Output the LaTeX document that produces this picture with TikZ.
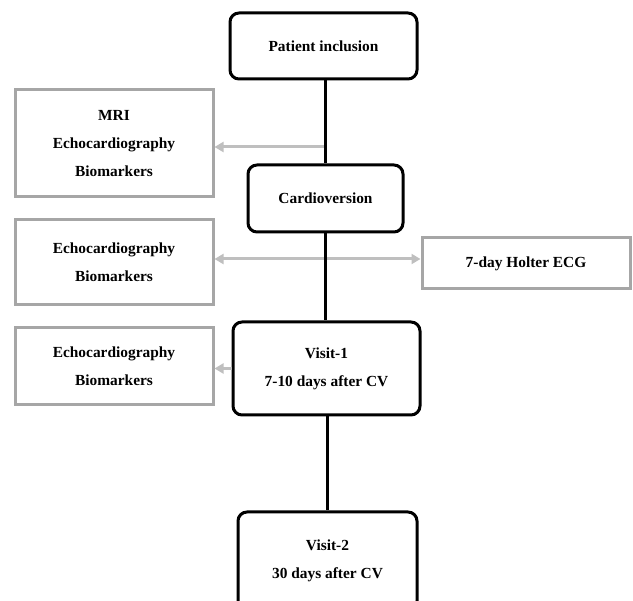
\documentclass[tikz,border=0pt]{standalone}
\usepackage{fontspec}
\setmainfont{Liberation Serif}
\definecolor{stepgray}{RGB}{166, 166, 166}
\definecolor{arrowgray}{RGB}{191, 191, 191}
\usepackage{tikz}
\usetikzlibrary{arrows.meta, positioning, calc}

\begin{document}
\begin{tikzpicture}[x=1pt, y=-1pt,
    stage/.style={draw=black, line width=3pt, rounded corners=9pt, fill=white, align=center, inner sep=0pt,
      font=\fontsize{15.4}{28}\selectfont\bfseries},
    exam/.style={draw=stepgray, line width=3pt, fill=white, align=center, inner sep=0pt,
      font=\fontsize{15.4}{28}\selectfont\bfseries},
    spine/.style={draw=black, line width=3pt},
    feed/.style={draw=arrowgray, line width=3pt, -{Triangle[length=9pt, width=10pt]}}]
  \useasboundingbox (0,0) rectangle (633,601);

  % Patient inclusion
  \node[stage, minimum width=187pt, minimum height=66pt] (incl) at (323.5, 46) {Patient inclusion};

  % Cardioversion
  \node[stage, minimum width=155pt, minimum height=67pt] (cv) at (325.5, 198.5) {Cardioversion};

  % Visit-1
  \node[stage, minimum width=187pt, minimum height=93pt] (visa) at (326.5, 368.5) {Visit-1\\7-10 days after CV};

  % Visit-2
  \node[stage, minimum width=179pt, minimum height=98pt] (visb) at (327.5, 561) {Visit-2\\30 days after CV};

  % Baseline exams
  \node[exam, minimum width=198pt, minimum height=107pt] (mri) at (114, 143.5) {MRI\\Echocardiography\\Biomarkers};

  % Exams at cardioversion
  \node[exam, minimum width=198pt, minimum height=85pt] (echoa) at (114, 262.5) {Echocardiography\\Biomarkers};

  % Holter
  \node[exam, minimum width=208pt, minimum height=51pt] (holter) at (526, 263.5) {7-day Holter ECG};

  % Exams at visit-1
  \node[exam, minimum width=198pt, minimum height=77pt] (echob) at (114, 366.5) {Echocardiography\\Biomarkers};

  % Gray arrows
  \draw[feed] (cv.north |- 0,147) -- (mri.east |- 0,147);
  \draw[feed, {Triangle[length=9pt, width=10pt]}-{Triangle[length=9pt, width=10pt]}] (echoa.east |- 0,259) -- (holter.west |- 0,259);
  \draw[feed] (visa.west) -- (visa.west -| echob.east);

  % Time line
  \draw[spine] (cv.north |- incl.south) -- (cv.north);
  \draw[spine] (cv.south) -- (cv.south |- visa.north);
  \draw[spine] (visb.north |- visa.south) -- (visb.north);
\end{tikzpicture}
\end{document}
